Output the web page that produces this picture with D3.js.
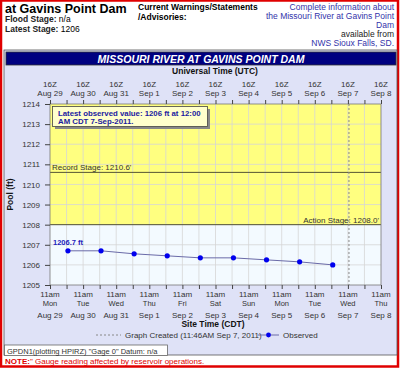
<!DOCTYPE html>
<html><head><meta charset="utf-8">
<script src="https://cdn.jsdelivr.net/npm/d3@7"></script>
<style>
html,body{margin:0;padding:0;background:#fff;}
svg{display:block;font-family:"Liberation Sans",Arial,sans-serif;}
</style></head>
<body><svg id="c" width="400" height="368"></svg>
<script>
// ---- data ----
const obsTimes = ["2011-08-30T05:00Z","2011-08-31T05:00Z","2011-09-01T05:00Z","2011-09-02T05:00Z","2011-09-03T05:00Z","2011-09-04T05:00Z","2011-09-05T05:00Z","2011-09-06T05:00Z","2011-09-07T05:00Z"];
const obsValues = [1206.7,1206.7,1206.55,1206.45,1206.35,1206.35,1206.25,1206.15,1206.0];
const tickDates = ["2011-08-29T16:00Z","2011-08-30T16:00Z","2011-08-31T16:00Z","2011-09-01T16:00Z","2011-09-02T16:00Z","2011-09-03T16:00Z","2011-09-04T16:00Z","2011-09-05T16:00Z","2011-09-06T16:00Z","2011-09-07T16:00Z","2011-09-08T16:00Z"];
const dateLabels = ["Aug 29","Aug 30","Aug 31","Sep 1","Sep 2","Sep 3","Sep 4","Sep 5","Sep 6","Sep 7","Sep 8"];
const dayLabels = ["Mon","Tue","Wed","Thu","Fri","Sat","Sun","Mon","Tue","Wed","Thu"];
const utcLabel = "16Z", siteLabel = "11am";
const yTicks = [1205,1206,1207,1208,1209,1210,1211,1212,1213,1214];
const recordStage = 1210.6, actionStage = 1208.0;
const createdTime = "2011-09-07T16:46Z";

const svg = d3.select("#c");
const F = '"Liberation Sans",Arial,sans-serif';

// page frame
svg.append("rect").attr("x",1).attr("y",0.5).attr("width",397).attr("height",366).attr("fill","#fff").attr("stroke","#e00000").attr("stroke-width",2.5);

// header
svg.append("text").attr("x",5).attr("y",12.5).attr("font-size",12.5).attr("font-weight","bold").text("at Gavins Point Dam");
const h1 = svg.append("text").attr("x",5).attr("y",22).attr("font-size",8.5);
h1.append("tspan").attr("font-weight","bold").attr("fill","#222").text("Flood Stage: ");
h1.append("tspan").text("n/a");
const h2 = svg.append("text").attr("x",5).attr("y",32).attr("font-size",8.5);
h2.append("tspan").attr("font-weight","bold").attr("fill","#222").text("Latest Stage: ");
h2.append("tspan").text("1206");
svg.append("text").attr("x",138).attr("y",10).attr("font-size",8.5).attr("font-weight","bold").text("Current Warnings/Statements");
svg.append("text").attr("x",138).attr("y",19.5).attr("font-size",8.5).attr("font-weight","bold").text("/Advisories:");
const rightLines = [["Complete information about","#3333aa"],["the Missouri River at Gavins Point","#3333aa"],["Dam","#3333aa"],["available from","#222"],["NWS Sioux Falls, SD.","#3333aa"]];
rightLines.forEach((d,i)=>svg.append("text").attr("x",394).attr("y",10+i*9).attr("font-size",8.5).attr("text-anchor","end").attr("fill",d[1]).text(d[0]));

// panel
svg.append("rect").attr("x",4).attr("y",50).attr("width",393).attr("height",305).attr("fill","#dfe2f7").attr("stroke","#555").attr("stroke-width",0.8);
svg.append("rect").attr("x",6).attr("y",52).attr("width",390).attr("height",13).attr("fill","#000080").attr("stroke","#333").attr("stroke-width",0.8);
svg.append("text").attr("x",201).attr("y",62.5).attr("text-anchor","middle").attr("font-size",10.5).attr("font-weight","bold").attr("font-style","italic").attr("fill","#fff").text("MISSOURI RIVER AT GAVINS POINT DAM");
svg.append("text").attr("x",215).attr("y",74).attr("text-anchor","middle").attr("font-size",8.5).attr("font-weight","bold").attr("fill","#111").text("Universal Time (UTC)");

// scales
const x = d3.scaleUtc().domain([new Date(tickDates[0]), new Date(tickDates[10])]).range([50,381]);
const y = d3.scaleLinear().domain([1205,1214]).range([285,104]);

// plot background
svg.append("rect").attr("x",50).attr("y",y(1214)).attr("width",331).attr("height",y(1205)-y(1214)).attr("fill","#f3faff");
svg.append("rect").attr("x",50).attr("y",y(1214)).attr("width",331).attr("height",y(actionStage)-y(1214)).attr("fill","#ffff80");

// gridlines
const halfDays = d3.utcHours(new Date(tickDates[0]), new Date(tickDates[10]), 12).concat([new Date(tickDates[10])]);
svg.append("g").selectAll("line").data(halfDays.slice(1,-1)).join("line")
  .attr("x1",d=>x(d)).attr("x2",d=>x(d)).attr("y1",y(1214)).attr("y2",y(1205))
  .attr("stroke","#d6d6d6").attr("stroke-width",0.8);
svg.append("g").selectAll("line").data(yTicks.slice(1,-1)).join("line")
  .attr("x1",50).attr("x2",381).attr("y1",d=>y(d)).attr("y2",d=>y(d))
  .attr("stroke","#d6d6d6").attr("stroke-width",0.8);

// stage lines
svg.append("line").attr("x1",50).attr("x2",381).attr("y1",y(recordStage)).attr("y2",y(recordStage)).attr("stroke","#555533").attr("stroke-width",1);
svg.append("text").attr("x",52).attr("y",y(recordStage)-2).attr("font-size",8).attr("fill","#333").text("Record Stage: 1210.6'");
svg.append("line").attr("x1",50).attr("x2",381).attr("y1",y(actionStage)).attr("y2",y(actionStage)).attr("stroke","#555533").attr("stroke-width",1);
svg.append("text").attr("x",379).attr("y",y(actionStage)-2).attr("font-size",8).attr("text-anchor","end").attr("fill","#333").text("Action Stage: 1208.0'");

// graph created line
svg.append("line").attr("x1",x(new Date(createdTime))).attr("x2",x(new Date(createdTime))).attr("y1",y(1214)).attr("y2",y(1205))
  .attr("stroke","#888").attr("stroke-dasharray","2,2").attr("stroke-width",1);

// plot border
svg.append("rect").attr("x",50).attr("y",y(1214)).attr("width",331).attr("height",y(1205)-y(1214)).attr("fill","none").attr("stroke","#777").attr("stroke-width",0.8);

// axes
const yAx = svg.append("g").attr("transform","translate(50,0)").call(d3.axisLeft(y).tickValues(yTicks).tickSize(5).tickFormat(d3.format("d")));
yAx.select(".domain").remove();
yAx.selectAll("line").attr("stroke","#444");
yAx.selectAll("text").attr("font-size",8).attr("font-family",F).attr("fill","#333").attr("dx",-2);

const topAx = svg.append("g").attr("transform",`translate(0,${y(1214)})`).call(d3.axisTop(x).tickValues(halfDays).tickSize(4).tickFormat(""));
topAx.select(".domain").remove(); topAx.selectAll("line").attr("stroke","#444");
const botAx = svg.append("g").attr("transform",`translate(0,${y(1205)})`).call(d3.axisBottom(x).tickValues(halfDays).tickSize(4).tickFormat(""));
botAx.select(".domain").remove(); botAx.selectAll("line").attr("stroke","#444");

const td = tickDates.map(d=>new Date(d));
svg.append("g").selectAll("text").data(td).join("text").attr("x",d=>x(d)).attr("y",87).attr("text-anchor","middle").attr("font-size",8).attr("fill","#333").text(utcLabel);
svg.append("g").selectAll("text").data(td).join("text").attr("x",d=>x(d)).attr("y",96).attr("text-anchor","middle").attr("font-size",8).attr("fill","#333").text((d,i)=>dateLabels[i]);
svg.append("g").selectAll("text").data(td).join("text").attr("x",d=>x(d)).attr("y",297).attr("text-anchor","middle").attr("font-size",8).attr("fill","#333").text(siteLabel);
svg.append("g").selectAll("text").data(td).join("text").attr("x",d=>x(d)).attr("y",305.5).attr("text-anchor","middle").attr("font-size",7.5).attr("fill","#333").text((d,i)=>dayLabels[i]);
svg.append("g").selectAll("text").data(td).join("text").attr("x",d=>x(d)).attr("y",317.5).attr("text-anchor","middle").attr("font-size",8).attr("fill","#333").text((d,i)=>dateLabels[i]);

svg.append("text").attr("x",10).attr("y",194.5).attr("transform","rotate(-90,10,194.5)").attr("dy","0.35em").attr("text-anchor","middle").attr("font-size",8.5).attr("font-weight","bold").attr("fill","#111").text("Pool (ft)");
svg.append("text").attr("x",213).attr("y",327).attr("text-anchor","middle").attr("font-size",8.5).attr("font-weight","bold").attr("fill","#111").text("Site Time (CDT)");

// observed series
const obs = obsTimes.map((t,i)=>({t:new Date(t), v:obsValues[i]}));
svg.append("path").datum(obs).attr("fill","none").attr("stroke","#6a6aa8").attr("stroke-width",1)
  .attr("d",d3.line().x(d=>x(d.t)).y(d=>y(d.v)));
svg.append("g").selectAll("circle").data(obs).join("circle").attr("cx",d=>x(d.t)).attr("cy",d=>y(d.v)).attr("r",2.6).attr("fill","#0000ee");
svg.append("text").attr("x",53).attr("y",y(obsValues[0])-6).attr("font-size",7.5).attr("font-weight","bold").attr("fill","#2222bb").text("1206.7 ft");

// latest value box
svg.append("rect").attr("x",55).attr("y",109).attr("width",155).attr("height",20).attr("fill","#888");
svg.append("rect").attr("x",52.5).attr("y",106.5).attr("width",155).attr("height",20).attr("fill","#ffffcc").attr("stroke","#444").attr("stroke-width",0.8);
svg.append("text").attr("x",58).attr("y",115.5).attr("font-size",7.8).attr("font-weight","bold").attr("fill","#1a1aa0").text("Latest observed value: 1206 ft at 12:00");
svg.append("text").attr("x",58).attr("y",123.5).attr("font-size",7.8).attr("font-weight","bold").attr("fill","#1a1aa0").text("AM CDT 7-Sep-2011.");

// legend
svg.append("line").attr("x1",96).attr("x2",121).attr("y1",335).attr("y2",335).attr("stroke","#888").attr("stroke-dasharray","2,2");
svg.append("text").attr("x",125).attr("y",338).attr("font-size",8).attr("fill","#333").text("Graph Created (11:46AM Sep 7, 2011)");
svg.append("line").attr("x1",258).attr("x2",279).attr("y1",335).attr("y2",335).attr("stroke","#6a6aa8");
svg.append("circle").attr("cx",268.5).attr("cy",335).attr("r",2.4).attr("fill","#0000ee");
svg.append("text").attr("x",283).attr("y",338).attr("font-size",8).attr("fill","#333").text("Observed");

// datum box
svg.append("rect").attr("x",4.5).attr("y",345).attr("width",163).attr("height",10.5).attr("fill","#fff").attr("stroke","#666").attr("stroke-width",0.8);
svg.append("text").attr("x",7).attr("y",353.5).attr("font-size",7.5).attr("fill","#333").text("GPDN1(plotting HPIRZ) \"Gage 0\" Datum: n/a");

// note
const n = svg.append("text").attr("x",5).attr("y",363.5).attr("font-size",8).attr("fill","#e00000");
n.append("tspan").attr("font-weight","bold").text("NOTE:");
n.append("tspan").text("\" Gauge reading affected by reservoir operations.");
</script></body></html>
